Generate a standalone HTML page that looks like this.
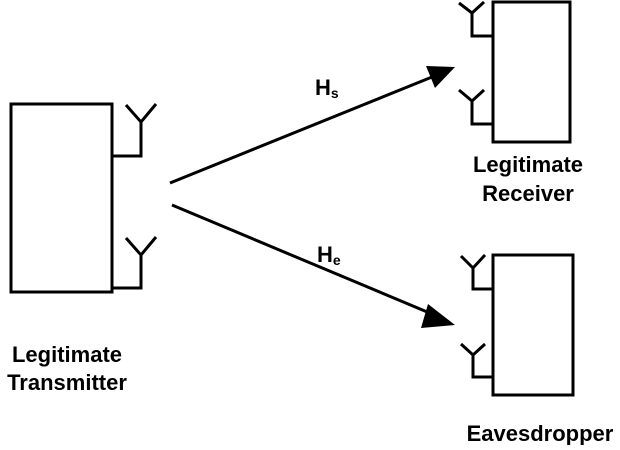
<!DOCTYPE html>
<html><head><style>
body{margin:0;background:#fff;}
svg text{font-family:"Liberation Sans",Arial,sans-serif;font-weight:bold;fill:#000;}
</style></head><body>
<svg width="620" height="445" viewBox="0 0 620 445" xmlns="http://www.w3.org/2000/svg">
<g fill="none" stroke="#000" stroke-width="3">
<rect x="11" y="104" width="101" height="188"/>
<path d="M112 156H141V122M126 105L141 122L156 104"/>
<path d="M112 288H141V255M126 238L141 255L156 237"/>
<rect x="493" y="2" width="77" height="140"/>
<path d="M493 36H472V13M459 3L472 13L484 2"/>
<path d="M493 124H472V101M459 90L472 101L484 90"/>
<rect x="493" y="255" width="80" height="140"/>
<path d="M493 289H473V268M461 256L473 268L485 255"/>
<path d="M493 377H473V355M461 344L473 355L485 344"/>
<path d="M170 183L432 77"/>
<path d="M172 205L432 314"/>
</g>
<polygon points="455,67 426,66 435,88" fill="#000"/>
<polygon points="455,325 428,304 421,328" fill="#000"/>
<text x="315" y="95" font-size="22">H<tspan font-size="14" dy="3">s</tspan></text>
<text x="317" y="262" font-size="22">H<tspan font-size="14" dy="3">e</tspan></text>
<text x="67" y="362" font-size="22" text-anchor="middle">Legitimate</text>
<text x="67" y="390" font-size="22" text-anchor="middle">Transmitter</text>
<text x="528" y="172" font-size="22" text-anchor="middle">Legitimate</text>
<text x="528" y="201" font-size="22" text-anchor="middle">Receiver</text>
<text x="540" y="441" font-size="22" text-anchor="middle">Eavesdropper</text>
</svg>
</body></html>
